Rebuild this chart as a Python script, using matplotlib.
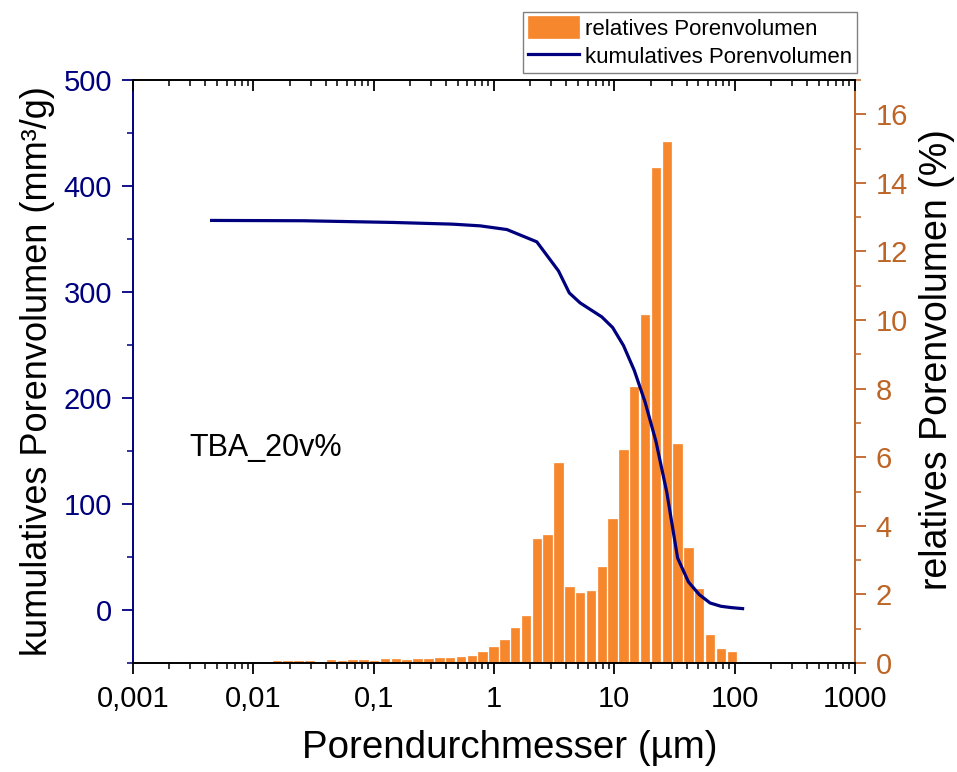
import matplotlib
matplotlib.use('Agg')
import matplotlib.pyplot as plt
from matplotlib.ticker import (LogLocator, NullFormatter, FixedLocator,
                               FixedFormatter, MultipleLocator)
import numpy as np

plt.rcParams['font.family'] = ['Liberation Sans', 'DejaVu Sans']

# ---- data ----
diam = [0.0157, 0.0193, 0.0237, 0.0292, 0.0359, 0.0442, 0.0543, 0.0668,
        0.0822, 0.101, 0.1245, 0.153, 0.188, 0.232, 0.285, 0.351, 0.432,
        0.531, 0.653, 0.804, 0.990, 1.218, 1.499, 1.844, 2.269, 2.791,
        3.434, 4.225, 5.198, 6.395, 7.867, 9.68, 11.91, 14.65, 18.03,
        22.18, 27.29, 33.57, 41.3, 50.8, 62.5, 76.9, 94.6, 116.4]
rel_vol = [0.06, 0.06, 0.06, 0.06, 0.0, 0.09, 0.06, 0.09, 0.09, 0.06,
           0.12, 0.11, 0.09, 0.11, 0.11, 0.14, 0.14, 0.18, 0.21, 0.31,
           0.46, 0.66, 1.03, 1.37, 3.62, 3.73, 5.84, 2.21, 2.03, 2.10,
           2.80, 4.20, 6.21, 8.06, 10.15, 14.44, 15.2, 6.39, 3.36, 2.17,
           0.82, 0.40, 0.33, 0.03]

cum_d = [0.0045, 0.026, 0.145, 0.45, 0.766, 1.28, 2.269, 3.434, 4.225,
         5.198, 7.867, 9.68, 11.91, 14.65, 18.03, 22.18, 27.29, 33.57,
         41.3, 50.8, 62.5, 76.9, 94.6, 116.4]
cum_v = [367.5, 367.2, 365.6, 364.0, 362.4, 358.9, 347.3, 319.9, 299.1,
         289.7, 276.5, 266.5, 249.5, 226.0, 196.0, 159.0, 111.0, 49.0,
         26.5, 14.5, 6.6, 3.5, 2.2, 1.3]

x_ticks = [0.001, 0.01, 0.1, 1, 10, 100, 1000]
x_labels = ['0,001', '0,01', '0,1', '1', '10', '100', '1000']
left_ticks = [0, 100, 200, 300, 400, 500]
right_ticks = [0, 2, 4, 6, 8, 10, 12, 14, 16]

NAVY = '#00007F'
BROWN = '#BD6526'
ORANGE = '#F7872D'

fig = plt.figure(figsize=(9.57, 7.72), dpi=100)
ax1 = fig.add_axes([0.139, 0.1412, 0.7544, 0.7552])
ax2 = ax1.twinx()
ax1.set_zorder(ax2.get_zorder() + 1)
ax1.patch.set_visible(False)

ax1.set_xscale('log')
ax1.set_xlim(1e-3, 1e3)
ax1.set_ylim(-50, 500)
ax2.set_ylim(0, 17)

d = np.array(diam)
hw = 10 ** 0.035
bars = ax2.bar(d / hw, rel_vol, width=d * hw - d / hw, align='edge',
               color=ORANGE, edgecolor=ORANGE, linewidth=0.5)
line, = ax1.plot(cum_d, cum_v, color=NAVY, lw=2.3)

ax1.text(0.00296, 153, 'TBA_20v%', fontsize=22, va='center', ha='left')

# x axis
ax1.xaxis.set_major_locator(FixedLocator(x_ticks))
ax1.xaxis.set_major_formatter(FixedFormatter(x_labels))
ax1.xaxis.set_minor_locator(LogLocator(base=10, subs=np.arange(2, 10), numticks=100))
ax1.xaxis.set_minor_formatter(NullFormatter())
ax1.tick_params(axis='x', which='major', direction='out', length=8, width=1.3,
                labelsize=21, pad=8)
ax1.tick_params(axis='x', which='minor', direction='out', length=4.5, width=1.1)

# left y axis
ax1.yaxis.set_major_locator(FixedLocator(left_ticks))
ax1.yaxis.set_minor_locator(MultipleLocator(50))
ax1.tick_params(axis='y', which='major', direction='out', length=8, width=1.3,
                colors=NAVY, labelsize=21, pad=7)
ax1.tick_params(axis='y', which='minor', direction='out', length=4.5, width=1.1,
                colors=NAVY)

# right y axis
ax2.yaxis.set_major_locator(FixedLocator(right_ticks))
ax2.yaxis.set_minor_locator(MultipleLocator(1))
ax2.tick_params(axis='y', which='major', direction='out', length=8, width=1.3,
                colors=BROWN, labelsize=21, pad=7)
ax2.tick_params(axis='y', which='minor', direction='out', length=4.5, width=1.1,
                colors=BROWN)

# top axis with inward ticks
ax3 = ax1.twiny()
ax3.set_xscale('log')
ax3.set_xlim(1e-3, 1e3)
ax3.patch.set_visible(False)
ax3.xaxis.set_major_locator(FixedLocator(x_ticks))
ax3.xaxis.set_major_formatter(NullFormatter())
ax3.xaxis.set_minor_locator(LogLocator(base=10, subs=np.arange(2, 10), numticks=100))
ax3.xaxis.set_minor_formatter(NullFormatter())
ax3.tick_params(axis='x', which='major', direction='in', length=8, width=1.3)
ax3.tick_params(axis='x', which='minor', direction='in', length=4.5, width=1.1)

for sp in ['left', 'right', 'bottom', 'top']:
    ax3.spines[sp].set_visible(False)
for sp in ['left', 'top', 'bottom']:
    ax2.spines[sp].set_visible(False)
ax1.spines['right'].set_visible(False)
ax1.spines['left'].set_color(NAVY)
ax1.spines['left'].set_linewidth(1.4)
ax1.spines['bottom'].set_linewidth(1.4)
ax1.spines['top'].set_linewidth(1.4)
ax2.spines['right'].set_color(BROWN)
ax2.spines['right'].set_linewidth(1.4)

ax1.set_xlabel('Porendurchmesser (µm)', fontsize=27.7, labelpad=12)
ax1.xaxis.label.set_x(0.522)
ax1.set_ylabel('kumulatives Porenvolumen (mm³/g)', fontsize=26, labelpad=6)
ax2.set_ylabel('relatives Porenvolumen (%)', fontsize=27, labelpad=8)
ax2.yaxis.label.set_y(0.521)

leg = fig.legend([bars, line], ['relatives Porenvolumen', 'kumulatives Porenvolumen'],
                 loc='upper right', bbox_to_anchor=(0.8955, 0.9845),
                 bbox_transform=fig.transFigure, fontsize=16, frameon=True,
                 fancybox=False, edgecolor='#808080', framealpha=1,
                 handlelength=2.3, handleheight=1.1, handletextpad=0.3,
                 borderpad=0.2, labelspacing=0.25, borderaxespad=0)
leg.get_frame().set_linewidth(1.0)

fig.savefig('out.png', dpi=100)
